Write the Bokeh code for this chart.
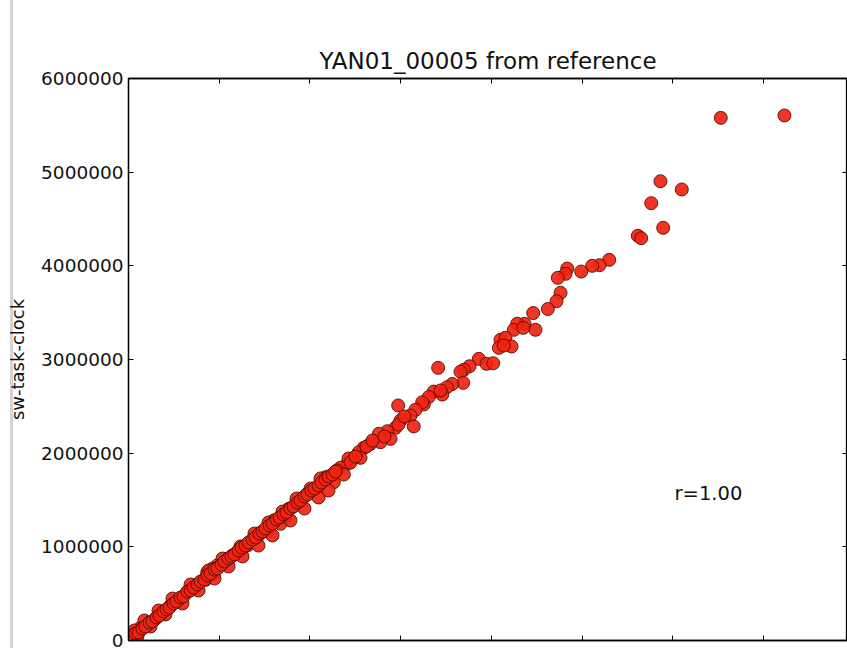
from bokeh.plotting import figure
from bokeh.models import (FixedTicker, BasicTickFormatter, LinearAxis, Range1d, Label, ColumnDataSource)
from bokeh.embed import file_html
from bokeh.resources import INLINE

title_text = "YAN01_00005 from reference"
y_label = "sw-task-clock"
r_text = "r=1.00"
y_ticks = [0, 1000000, 2000000, 3000000, 4000000, 5000000, 6000000]
x_ticks = [0, 1000000, 2000000, 3000000, 4000000, 5000000, 6000000, 7000000]

# values in millions
x_m = [7.232, 6.530, 6.100, 5.865, 5.763, 5.895, 5.615, 5.652, 5.300, 5.193,
       5.112, 4.991, 4.837, 4.818, 4.733, 4.763, 4.719, 4.623, 4.462, 4.487,
       4.366, 4.285, 4.248, 4.352, 4.101, 4.156, 4.083, 4.223, 4.138, 3.862,
       3.947, 4.021, 3.760, 3.697, 3.660, 3.414, 3.690, 3.569, 3.511, 3.459,
       3.366, 3.440, 3.311, 3.256, 3.238, 3.164, 3.109, 2.973, 3.145, 2.999,
       2.944, 2.852, 2.760, 2.889, 2.778, 2.668, 2.594, 2.539, 2.558, 2.466,
       2.411, 2.337, 2.301, 2.374, 2.246, 2.172, 2.263, 2.153, 2.080, 1.970,
       1.896, 1.841, 1.767, 1.731, 1.676, 1.602, 1.547, 1.474, 1.419, 1.364,
       1.309, 1.254, 1.198, 1.143, 1.088, 1.033, 0.978, 0.923, 0.868, 0.849,
       0.940, 0.739, 0.647, 0.555, 0.463, 0.383, 0.298, 0.213, 0.132, 0.052,
       0.010,
       0.099, 0.243, 0.408, 0.595, 0.772, 0.948, 1.103, 1.257, 1.433, 1.588,
       1.786, 1.940, 2.095, 2.205,
       0.066, 0.176, 0.331, 0.485, 0.684, 0.882, 1.036, 1.235, 1.389, 1.544,
       1.698, 1.852, 2.007, 2.117, 2.426,
       0.033, 0.077, 0.110, 0.154, 0.187, 0.232, 0.265, 0.309, 0.342, 0.386,
       0.419, 0.452, 0.496, 0.529, 0.573, 0.606, 0.650, 0.684, 0.717, 0.761,
       0.794, 0.838, 0.871, 0.904, 0.948, 0.981, 1.025, 1.058, 1.103, 1.136,
       1.169, 1.213, 1.246, 1.290, 1.323, 1.367, 1.400, 1.444, 1.477, 1.510,
       1.555, 1.588, 1.632, 1.665, 1.709, 1.742, 1.786, 1.819, 1.863, 1.896,
       1.940, 1.973, 2.018, 2.051, 2.095, 2.128, 2.172, 2.205, 2.249, 2.282,
       2.448, 2.503, 2.624, 2.690, 2.822, 2.977, 3.043]
y_m = [5.605, 5.580, 4.815, 4.903, 4.669, 4.406, 4.321, 4.295, 4.064, 4.007,
       4.000, 3.939, 3.971, 3.915, 3.872, 3.712, 3.622, 3.539, 3.496, 3.317,
       3.381, 3.381, 3.317, 3.338, 3.210, 3.232, 3.125, 3.139, 3.149, 3.007,
       2.954, 2.960, 2.928, 2.890, 2.869, 2.911, 2.751, 2.738, 2.704, 2.626,
       2.658, 2.669, 2.600, 2.520, 2.544, 2.463, 2.402, 2.509, 2.285, 2.349,
       2.271, 2.234, 2.207, 2.153, 2.117, 2.100, 2.057, 2.010, 1.950, 1.940,
       1.886, 1.844, 1.815, 1.772, 1.762, 1.743, 1.690, 1.708, 1.637, 1.566,
       1.495, 1.452, 1.406, 1.316, 1.246, 1.281, 1.174, 1.156, 1.103, 1.068,
       1.014, 0.979, 0.943, 0.907, 0.872, 0.825, 0.801, 0.765, 0.726, 0.648,
       0.712, 0.587, 0.516, 0.435, 0.374, 0.302, 0.232, 0.185, 0.136, 0.064,
       0.010,
       0.043, 0.149, 0.278, 0.395, 0.534, 0.662, 0.790, 0.897, 1.014, 1.121,
       1.281, 1.409, 1.527, 1.601,
       0.107, 0.214, 0.320, 0.448, 0.598, 0.747, 0.875, 1.004, 1.142, 1.260,
       1.377, 1.516, 1.623, 1.730, 1.943,
       0.043, 0.075, 0.085, 0.128, 0.149, 0.192, 0.203, 0.246, 0.267, 0.310,
       0.331, 0.352, 0.395, 0.416, 0.459, 0.470, 0.523, 0.534, 0.566, 0.598,
       0.630, 0.651, 0.694, 0.715, 0.758, 0.769, 0.811, 0.843, 0.875, 0.897,
       0.918, 0.961, 0.993, 1.014, 1.046, 1.078, 1.100, 1.142, 1.164, 1.196,
       1.228, 1.249, 1.292, 1.313, 1.345, 1.367, 1.409, 1.431, 1.473, 1.495,
       1.537, 1.559, 1.601, 1.623, 1.655, 1.687, 1.719, 1.751, 1.772, 1.804,
       1.900, 1.964, 2.071, 2.135, 2.178, 2.306, 2.391]

xs = [v * 1e6 for v in x_m]
ys = [v * 1e6 for v in y_m]
src = ColumnDataSource(dict(x=xs, y=ys))

FONT = "DejaVu Sans"

p = figure(width=847, height=648, output_backend="svg", toolbar_location=None,
           x_range=Range1d(0, 7927000), y_range=Range1d(0, 6000000),
           min_border_left=128, min_border_right=0, min_border_top=78, min_border_bottom=8,
           x_axis_location=None, y_axis_location=None)
p.border_fill_alpha = 0
p.styles = {"background": "linear-gradient(to right, #ffffff 10px, #d4d4d4 10px, #d4d4d4 13px, #ffffff 13px)"}

p.title.text = title_text
p.title.align = "center"
p.title.text_font = FONT
p.title.text_font_size = "23px"
p.title.text_font_style = "normal"
p.title.text_color = "#111111"
p.title.offset = 0

p.grid.visible = False
p.outline_line_color = "black"
p.outline_line_width = 1.3

def mk_axis(ticks, show_labels, label=None):
    ax = LinearAxis(ticker=FixedTicker(ticks=ticks),
                    formatter=BasicTickFormatter(use_scientific=False))
    ax.major_tick_in = 5
    ax.major_tick_out = 0
    ax.minor_tick_in = 0
    ax.minor_tick_out = 0
    ax.axis_line_color = "black"
    ax.axis_line_width = 1.3
    ax.major_tick_line_color = "black"
    if show_labels:
        ax.major_label_text_font = FONT
        ax.major_label_text_font_size = "18.5px"
        ax.major_label_text_color = "#111111"
        ax.major_label_standoff = 5
    else:
        ax.major_label_overrides = {t: "" for t in ticks}
        ax.major_label_standoff = 0
    if label:
        ax.axis_label = label
        ax.axis_label_text_font = FONT
        ax.axis_label_text_font_size = "18px"
        ax.axis_label_text_font_style = "normal"
        ax.axis_label_text_color = "#111111"
        ax.axis_label_standoff = 10
    return ax

p.add_layout(mk_axis(y_ticks, True, y_label), "left")
p.add_layout(mk_axis(y_ticks, False), "right")
p.add_layout(mk_axis(x_ticks, False), "below")
p.add_layout(mk_axis(x_ticks, False), "above")

p.scatter("x", "y", source=src, size=13, fill_color="#f02412", line_color="#5a0c06",
          line_width=1, fill_alpha=0.92, line_alpha=0.9)

p.add_layout(Label(x=6020000, y=1570000, text=r_text, text_font=FONT, text_font_size="19.5px",
                   text_color="#111111", text_baseline="middle", text_align="left"))

open("out.html", "w").write(file_html(p, INLINE))
